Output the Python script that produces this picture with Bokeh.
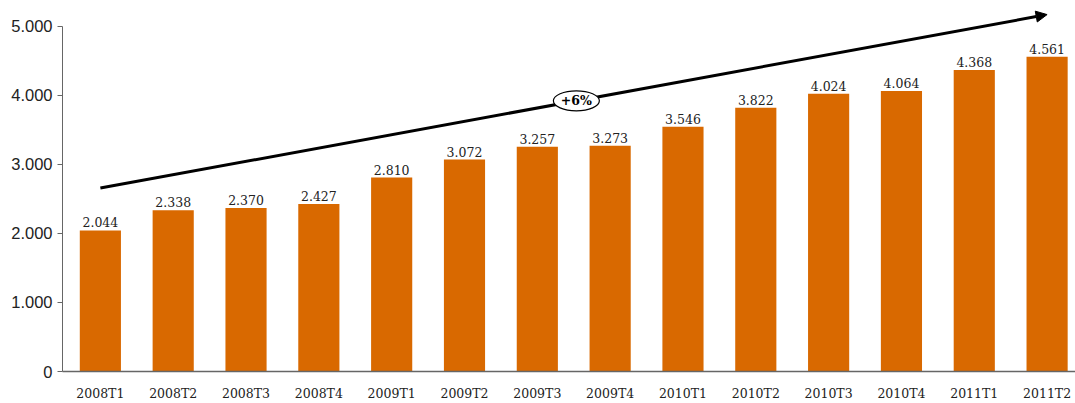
from bokeh.plotting import figure
from bokeh.models import (ColumnDataSource, Range1d, FixedTicker, Arrow, NormalHead)
from bokeh.core.properties import value
from bokeh.embed import file_html
from bokeh.resources import INLINE

categories = ["2008T1", "2008T2", "2008T3", "2008T4", "2009T1", "2009T2", "2009T3",
              "2009T4", "2010T1", "2010T2", "2010T3", "2010T4", "2011T1", "2011T2"]
values = [2044, 2338, 2370, 2427, 2810, 3072, 3257, 3273, 3546, 3822, 4024, 4064, 4368, 4561]
y_ticks = [0, 1000, 2000, 3000, 4000, 5000]
y_tick_labels = ["0", "1.000", "2.000", "3.000", "4.000", "5.000"]
trend_label = "+6%"
trend_start = 2658
trend_end = 5172
trend_label_value = 3922

BAR = "#D96900"
SERIF = "DejaVu Serif"

xs = list(range(len(categories)))
labels = [f"{v:,}".replace(",", ".") for v in values]
src = ColumnDataSource(dict(x=xs, top=values, lab=labels))

p = figure(width=1075, height=403, output_backend="svg", toolbar_location=None,
           x_range=Range1d(-0.52, 13.39), y_range=Range1d(0, 5376),
           min_border_left=62, min_border_right=0, min_border_top=0, min_border_bottom=20)
p.outline_line_color = None
p.xgrid.visible = False
p.ygrid.visible = False
p.background_fill_color = "white"
p.border_fill_color = "white"

p.vbar(x="x", top="top", width=0.565, source=src, fill_color=BAR, line_color=None)
p.text(x="x", y="top", text="lab", source=src, text_align="center", text_baseline="bottom",
       y_offset=-3, text_font=value(SERIF), text_font_size="12.5px", text_color="#222222")

# trend arrow
p.add_layout(Arrow(x_start=0, y_start=trend_start, x_end=len(categories) - 1, y_end=trend_end,
                   line_width=3, line_color="black",
                   end=NormalHead(size=11, fill_color="black", line_color="black")))
mid_x = (trend_label_value - trend_start) / (trend_end - trend_start) * (len(categories) - 1)
e = p.ellipse(x=[mid_x], y=[trend_label_value], width=46, height=20, width_units="screen",
              height_units="screen", fill_color="white", line_color="black", line_width=1.2)
e.level = "overlay"
t = p.text(x=[mid_x], y=[trend_label_value], text=[trend_label], text_align="center",
           text_baseline="middle", text_font=value(SERIF), text_font_size="12.5px",
           text_font_style="bold", text_color="black")
t.level = "overlay"

# axes
xa = p.xaxis[0]
xa.ticker = FixedTicker(ticks=xs)
xa.major_label_overrides = {i: c for i, c in zip(xs, categories)}
xa.major_tick_line_color = None
xa.minor_tick_line_color = None
xa.major_label_standoff = 8
xa.major_label_text_font = SERIF
xa.major_label_text_font_size = "12.5px"
xa.major_label_text_color = "#222222"
xa.axis_line_color = "#666666"
xa.axis_line_width = 1.5

ya = p.yaxis[0]
ya.ticker = FixedTicker(ticks=y_ticks)
ya.major_label_overrides = {t: l for t, l in zip(y_ticks, y_tick_labels)}
ya.bounds = (0, 5000)
ya.major_tick_out = 5
ya.major_tick_in = 0
ya.minor_tick_line_color = None
ya.major_tick_line_color = "#666666"
ya.axis_line_color = "#666666"
ya.major_label_standoff = 5
ya.major_label_text_font = "Liberation Sans"
ya.major_label_text_font_size = "16.5px"
ya.major_label_text_color = "#222222"

open("out.html", "w").write(file_html(p, INLINE))
